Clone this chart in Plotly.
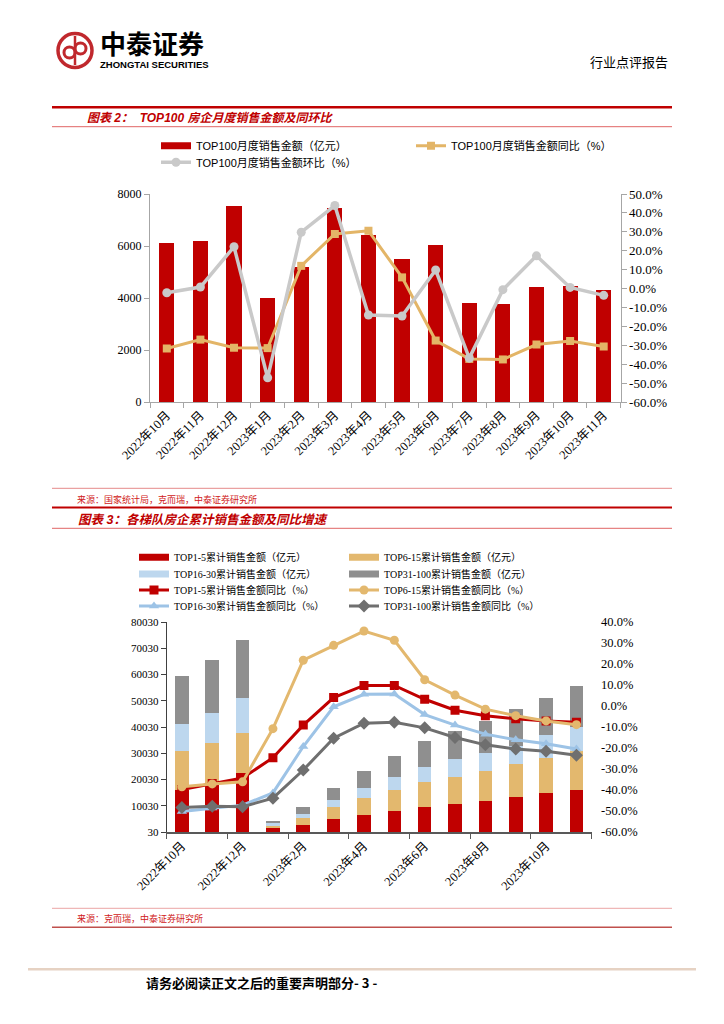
import plotly.graph_objects as go

# ---------------- data ----------------
months = ["2022年10月", "2022年11月", "2022年12月", "2023年1月", "2023年2月", "2023年3月",
          "2023年4月", "2023年5月", "2023年6月", "2023年7月", "2023年8月", "2023年9月",
          "2023年10月", "2023年11月"]

# Chart 2 (图表2)
top100_sales = [6130, 6200, 7550, 4000, 5200, 7460, 6430, 5510, 6020, 3820, 3780, 4430, 4450, 4290]
top100_yoy = [-31.7, -27.0, -31.3, -31.5, 12.0, 28.9, 30.5, 5.9, -27.5, -37.2, -37.5, -29.6, -27.7, -30.7]
top100_mom = [-2.2, 0.8, 22.1, -47.2, 29.8, 43.9, -14.0, -14.5, 9.8, -36.8, -0.6, 17.3, 0.6, -3.6]

# Chart 3 (图表3) cumulative sales by tier (亿元)
tier1_5 = [16200, 18100, 22500, 1500, 2650, 4800, 6600, 8200, 9700, 10700, 11900, 13300, 14800, 16100]
tier6_15 = [14500, 15700, 15400, 1000, 2550, 4800, 6400, 7700, 9400, 10400, 11200, 12500, 13600, 14700]
tier16_30 = [10300, 11600, 13200, 900, 1750, 2800, 3900, 5100, 5800, 6600, 7100, 6900, 8500, 9400]
tier31_100 = [18500, 20300, 22000, 1000, 2550, 4400, 6400, 8000, 9900, 10900, 12300, 14200, 14300, 15300]
# cumulative YoY (%)
yoy1_5 = [-39.8, -36.9, -34.3, -24.6, -9.1, 4.0, 9.8, 9.8, 3.2, -2.0, -4.6, -6.1, -7.1, -7.7]
yoy6_15 = [-38.5, -37.1, -36.1, -10.8, 21.8, 28.9, 35.7, 31.3, 12.5, 5.2, -1.5, -4.6, -7.1, -8.9]
yoy16_30 = [-50.2, -48.6, -47.2, -41.4, -19.3, -0.4, 5.6, 5.7, -4.1, -9.1, -13.4, -16.1, -18.0, -20.5]
yoy31_100 = [-48.3, -47.7, -48.0, -43.9, -30.5, -15.3, -8.2, -7.7, -10.4, -15.0, -18.5, -20.5, -21.6, -23.4]

# tick labels
c1_left_ticks = [0, 2000, 4000, 6000, 8000]
c1_right_ticks = [-60, -50, -40, -30, -20, -10, 0, 10, 20, 30, 40, 50]
c2_left_ticks = [30, 10030, 20030, 30030, 40030, 50030, 60030, 70030, 80030]
c2_right_ticks = [-60, -50, -40, -30, -20, -10, 0, 10, 20, 30, 40]

# ---------------- styling ----------------
W, H = 724, 1024
def px(x):
    return x / W
def py(y):
    return 1 - y / H

RED = "#C00000"
TAN1 = "#E3B567"
GREY1 = "#C9C9C9"
TAN2 = "#E3B86E"
LBLUE = "#BDD7EE"
LBLUE_L = "#9DC3E6"
GREYBAR = "#8F8F8F"
DGREY = "#6F6F6F"
AX1 = "#A6A6A6"
SERIF = "Liberation Serif, Noto Sans CJK SC"
SANS = "Liberation Sans, Noto Sans CJK SC"
CJK = "Noto Sans CJK SC"

fig = go.Figure()

# ---- chart 1 ----
fig.add_bar(x=months, y=top100_sales, marker=dict(color=RED, line=dict(width=0)), width=0.45,
            xaxis="x", yaxis="y", showlegend=False, name="TOP100月度销售金额（亿元）")
fig.add_scatter(x=[None], y=[None], mode="lines", line=dict(color=RED, width=7),
                name="TOP100月度销售金额（亿元）", legend="legend", xaxis="x", yaxis="y")
fig.add_scatter(x=months, y=top100_yoy, mode="lines+markers", xaxis="x", yaxis="y2",
                line=dict(color=TAN1, width=3), marker=dict(symbol="square", size=8, color=TAN1),
                name="TOP100月度销售金额同比（%）", legend="legend2")
fig.add_scatter(x=months, y=top100_mom, mode="lines+markers", xaxis="x", yaxis="y2",
                line=dict(color=GREY1, width=3.5), marker=dict(symbol="circle", size=9, color=GREY1),
                name="TOP100月度销售金额环比（%）", legend="legend3")

# ---- chart 2 ----
bar_series = [
    (tier1_5, RED, "TOP1-5累计销售金额（亿元）", "legend4"),
    (tier6_15, TAN2, "TOP6-15累计销售金额（亿元）", "legend5"),
    (tier16_30, LBLUE, "TOP16-30累计销售金额（亿元）", "legend6"),
    (tier31_100, GREYBAR, "TOP31-100累计销售金额（亿元）", "legend7"),
]
for vals, col, nm, lg in bar_series:
    fig.add_bar(x=months, y=vals, marker=dict(color=col, line=dict(width=0)), width=0.45,
                xaxis="x2", yaxis="y3", showlegend=False, name=nm)
    fig.add_scatter(x=[None], y=[None], mode="lines", line=dict(color=col, width=7),
                    name=nm, legend=lg, xaxis="x2", yaxis="y3")

line_series = [
    (yoy1_5, RED, "square", 9, "TOP1-5累计销售金额同比（%）", "legend8"),
    (yoy6_15, TAN2, "circle", 9, "TOP6-15累计销售金额同比（%）", "legend9"),
    (yoy16_30, LBLUE_L, "triangle-up", 9, "TOP16-30累计销售金额同比（%）", "legend10"),
    (yoy31_100, DGREY, "diamond", 10, "TOP31-100累计销售金额同比（%）", "legend11"),
]
for vals, col, sym, sz, nm, lg in line_series:
    fig.add_scatter(x=months, y=vals, mode="lines+markers", xaxis="x2", yaxis="y4",
                    line=dict(color=col, width=3), marker=dict(symbol=sym, size=sz, color=col),
                    name=nm, legend=lg)

# ---- legends ----
def leg(text_x, yc, size, family):
    return dict(x=px(text_x - 40), y=py(yc), xanchor="left", yanchor="middle",
                bgcolor="rgba(0,0,0,0)", font=dict(size=size, family=family, color="#000"),
                itemwidth=30, orientation="v", tracegroupgap=0)

legends = {
    "legend": leg(196, 145.7, 11, SANS),
    "legend2": leg(451, 145.7, 11, SANS),
    "legend3": leg(196, 162.3, 11, SANS),
    "legend4": leg(174, 557.3, 10, SERIF),
    "legend5": leg(384, 557.3, 10, SERIF),
    "legend6": leg(174, 574, 10, SERIF),
    "legend7": leg(384, 574, 10, SERIF),
    "legend8": leg(174, 590, 10, SERIF),
    "legend9": leg(384, 590, 10, SERIF),
    "legend10": leg(174, 606, 10, SERIF),
    "legend11": leg(384, 606, 10, SERIF),
}

fig.update_layout(
    template="none",
    width=W, height=H, margin=dict(l=0, r=0, t=0, b=0, pad=0), autosize=False,
    paper_bgcolor="white", plot_bgcolor="white", barmode="stack",
    font=dict(color="#000"),
    xaxis=dict(domain=[px(150), px(620.5)], anchor="y", type="category", automargin=False,
               range=[-0.5, 13.5], tickmode="linear", tick0=0, dtick=1, tickson="boundaries",
               ticks="outside", ticklen=5, tickcolor=AX1, showline=True, linecolor=AX1, linewidth=1,
               tickangle=-45, tickfont=dict(family=SERIF, size=12.5, color="#000"), showgrid=False,
               zeroline=False),
    yaxis=dict(domain=[py(402), py(194)], anchor="x", range=[0, 8000], automargin=False,
               tickmode="array", tickvals=c1_left_ticks, ticktext=[str(v) for v in c1_left_ticks],
               ticks="outside", ticklen=5, tickcolor=AX1, showline=True, linecolor=AX1,
               showgrid=False, zeroline=False, tickfont=dict(family=SERIF, size=12, color="#000")),
    yaxis2=dict(overlaying="y", side="right", anchor="x", range=[-60, 50], automargin=False,
                tickmode="array", tickvals=c1_right_ticks,
                ticktext=[f"{v:.1f}%" for v in c1_right_ticks],
                ticks="outside", ticklen=5, tickcolor=AX1, showline=True, linecolor=AX1,
                showgrid=False, zeroline=False, tickfont=dict(family=SERIF, size=13, color="#000")),
    xaxis2=dict(domain=[px(166.7), px(591.6)], anchor="y3", type="category", automargin=False,
                range=[-0.5, 13.5], tickmode="linear", tick0=0, dtick=2, tickson="boundaries",
                ticks="outside", ticklen=5, tickcolor="#595959", showline=True, linecolor="#595959",
                linewidth=1.5, tickangle=-45, tickfont=dict(family=SERIF, size=12.5, color="#000"),
                showgrid=False, zeroline=False),
    yaxis3=dict(domain=[py(832), py(622)], anchor="x2", range=[30, 80030], automargin=False,
                tickmode="array", tickvals=c2_left_ticks, ticktext=[str(v) for v in c2_left_ticks],
                ticks="outside", ticklen=5, tickcolor="#404040", showline=True, linecolor="#404040",
                showgrid=False, zeroline=False, tickfont=dict(family=SERIF, size=11, color="#000")),
    yaxis4=dict(overlaying="y3", side="right", anchor="x2", range=[-60, 40], automargin=False,
                tickmode="array", tickvals=c2_right_ticks,
                ticktext=[f"{v:.1f}%" for v in c2_right_ticks],
                ticks="outside", ticklen=6, tickcolor="rgba(0,0,0,0)", showline=False,
                showgrid=False, zeroline=False, tickfont=dict(family=SERIF, size=12.5, color="#000")),
    **legends,
)

# ---- page decorations: lines ----
def hline(y, x0, x1, color, width):
    fig.add_shape(type="line", xref="paper", yref="paper", x0=px(x0), x1=px(x1), y0=py(y), y1=py(y),
                  line=dict(color=color, width=width))

hline(107.3, 52, 672, RED, 2.5)
hline(126.7, 52, 672, "#E06666", 1)
hline(488.3, 52, 672, "#E58A8A", 1)
hline(507.5, 52, 672, RED, 2)
hline(528.3, 52, 672, "#E06666", 1)
hline(908.3, 52, 672, "#EBA5A5", 1)
hline(927.3, 52, 672, "#C0504D", 1.5)
hline(969.3, 28, 696, "#E6D2C3", 2.5)

# ---- logo ----
def circle(cx, cy, r, line_color, lw, fill="rgba(0,0,0,0)"):
    fig.add_shape(type="circle", xref="paper", yref="paper",
                  x0=px(cx - r), x1=px(cx + r), y0=py(cy + r), y1=py(cy - r),
                  line=dict(color=line_color, width=lw), fillcolor=fill)

circle(75, 50.5, 17, "#C0282D", 3.5, "white")
circle(69.5, 52.5, 5.5, "#C0282D", 3)
circle(80.5, 48.5, 5.5, "#C0282D", 3)
fig.add_shape(type="line", xref="paper", yref="paper", x0=px(75), x1=px(75), y0=py(36), y1=py(65),
              line=dict(color="#C0282D", width=2.5))

# ---- texts ----
def text(x, y, s, size, color="#000", family=CJK, xanchor="left"):
    fig.add_annotation(x=px(x), y=py(y), xref="paper", yref="paper", text=s, showarrow=False,
                       xanchor=xanchor, yanchor="middle", borderpad=0,
                       font=dict(size=size, color=color, family=family))

text(99, 42.5, "<b>中泰证券</b>", 26)
text(99, 64, "<b>ZHONGTAI SECURITIES</b>", 9.5, family="Liberation Sans")
text(589, 61.7, "行业点评报告", 13)
text(86, 118, "<b><i>图表 2：  TOP100 房企月度销售金额及同环比</i></b>", 12, color=RED, family=SANS)
text(77, 520, "<b><i>图表 3：各梯队房企累计销售金额及同比增速</i></b>", 12.5, color=RED, family=SANS)
text(76, 499, "来源：国家统计局，克而瑞，中泰证券研究所", 9, color="#D02020")
text(76, 918, "来源：克而瑞，中泰证券研究所", 9, color="#D02020")
text(145, 982, "<b>请务必阅读正文之后的重要声明部分- 3 -</b>", 13)

fig.write_html("out.html", config={"displayModeBar": False},
               post_script="document.body.style.margin='0';document.body.style.overflow='hidden';")
